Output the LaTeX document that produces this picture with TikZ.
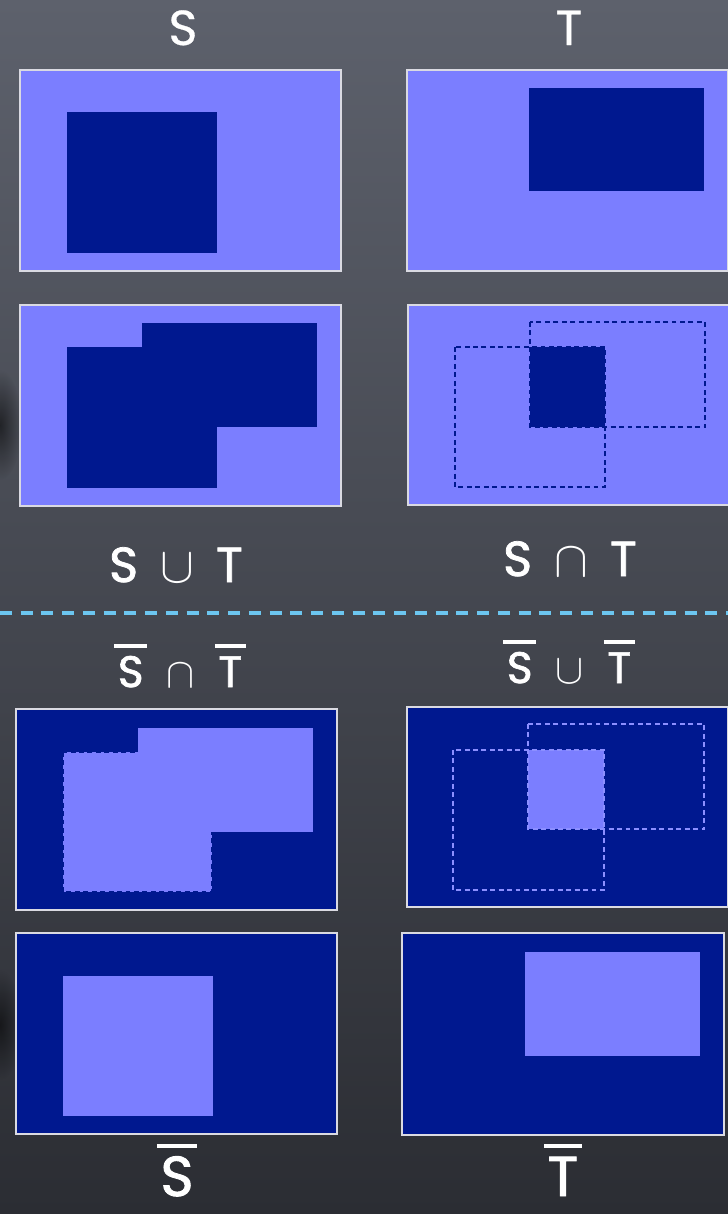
\documentclass[tikz,border=0pt]{standalone}
\usepackage{fontspec}
\setmainfont{Poppins}
\newfontfamily\thinlbl{Poppins}[FakeBold=0.6]
\newfontfamily\medlbl{Poppins}[FakeBold=1.6]
\usetikzlibrary{positioning,fadings}
\definecolor{boardtop}{HTML}{5D616C}
\definecolor{boardbot}{HTML}{2B2D33}
\definecolor{setlite}{HTML}{7B7EFF}
\definecolor{setdeep}{HTML}{00188F}
\definecolor{edgelite}{HTML}{8C8FFF}
\definecolor{framegray}{HTML}{DADAE2}
\definecolor{divblue}{HTML}{6CC6F0}
\newcommand\cmpl[1]{\vbox{\hrule height 1.1pt\kern 2.4pt\hbox{\kern 1pt#1\kern 1pt}}}
\tikzfading[name=blobfade,inner color=transparent!0,outer color=transparent!100]

\begin{document}
\begin{tikzpicture}[x=0.01cm,y=-0.01cm,
  panel/.style={draw=framegray,line width=0.45pt},
  outline/.style={line width=0.75pt,dash pattern=on 1.4pt off 1pt},
  lbl/.style={text=white,anchor=base,inner sep=0pt,font=\thinlbl\fontsize{14}{16}\selectfont},
  boldlbl/.style={lbl,font=\medlbl\fontsize{#1}{#1}\selectfont}]
  \useasboundingbox (0,0) rectangle (728,1214);
  \clip (0,0) rectangle (728,1214);
  \shade[top color=boardtop,bottom color=boardbot] (0,0) rectangle (728,1214);
  \fill[black,opacity=0.55,path fading=blobfade] (0,425) ellipse (22 and 55);
  \fill[black,opacity=0.55,path fading=blobfade] (0,1025) ellipse (22 and 55);

  \node[lbl] (lblS) at (183,45) {S};
  \node[lbl] (lblT) at (569,45) {T};

  \begin{scope}[shift={(20,70)}]
    \fill[setlite] (0,0) rectangle (321,201);
    \fill[setdeep] (47,42) rectangle (197,183);
    \draw[panel] (0,0) rectangle (321,201);
  \end{scope}
  \begin{scope}[shift={(407,70)}]
    \fill[setlite] (0,0) rectangle (321,201);
    \fill[setdeep] (122,18) rectangle (297,121);
    \draw[panel] (0,0) rectangle (321,201);
  \end{scope}

  \begin{scope}[shift={(20,305)}]
    \fill[setlite] (0,0) rectangle (321,201);
    \fill[setdeep] (47,42) rectangle (197,183);
    \fill[setdeep] (122,18) rectangle (297,122);
    \draw[panel] (0,0) rectangle (321,201);
  \end{scope}
  \begin{scope}[shift={(408,305)}]
    \fill[setlite] (0,0) rectangle (321,200);
    \fill[setdeep] (122,42) rectangle (197,122);
    \draw[outline,setdeep] (47,42) rectangle (197,182);
    \draw[outline,setdeep] (122,17) rectangle (297,122);
    \draw[panel] (0,0) rectangle (321,200);
  \end{scope}

  \node[boldlbl=14] (lblUnion) at (176,582) {S\hspace{0.45em}$\cup$\hspace{0.45em}T};
  \node[boldlbl=14] (lblInter) at (570,576) {S\hspace{0.45em}$\cap$\hspace{0.45em}T};

  \draw[divblue,line width=1.2pt,dash pattern=on 3.4pt off 2.5pt] (0,613) -- (728,613);

  \node[boldlbl=12.5] (lblNotInter) at (180,687) {\cmpl{S}\hspace{0.45em}$\cap$\hspace{0.45em}\cmpl{T}};
  \node[boldlbl=12.5] (lblNotUnion) at (569,683) {\cmpl{S}\hspace{0.45em}$\cup$\hspace{0.45em}\cmpl{T}};

  \begin{scope}[shift={(16,709)}]
    \fill[setdeep] (0,0) rectangle (321,201);
    \fill[setlite] (47,43) rectangle (196,183);
    \draw[outline,setdeep] (47,43) rectangle (196,183);
    \fill[setlite] (122,19) rectangle (297,123);
    \draw[panel] (0,0) rectangle (321,201);
  \end{scope}
  \begin{scope}[shift={(407,707)}]
    \fill[setdeep] (0,0) rectangle (321,200);
    \fill[setlite] (121,43) rectangle (197,122);
    \draw[outline,edgelite] (46,43) rectangle (197,183);
    \draw[outline,edgelite] (121,17) rectangle (297,122);
    \draw[panel] (0,0) rectangle (321,200);
  \end{scope}

  \begin{scope}[shift={(16,933)}]
    \fill[setdeep] (0,0) rectangle (321,201);
    \fill[setlite] (47,43) rectangle (197,183);
    \draw[panel] (0,0) rectangle (321,201);
  \end{scope}
  \begin{scope}[shift={(402,933)}]
    \fill[setdeep] (0,0) rectangle (322,202);
    \fill[setlite] (123,19) rectangle (298,123);
    \draw[panel] (0,0) rectangle (322,202);
  \end{scope}

  \node[boldlbl=16] (lblNotS) at (177,1196) {\cmpl{S}};
  \node[boldlbl=16] (lblNotT) at (563,1196) {\cmpl{T}};
\end{tikzpicture}
\end{document}
